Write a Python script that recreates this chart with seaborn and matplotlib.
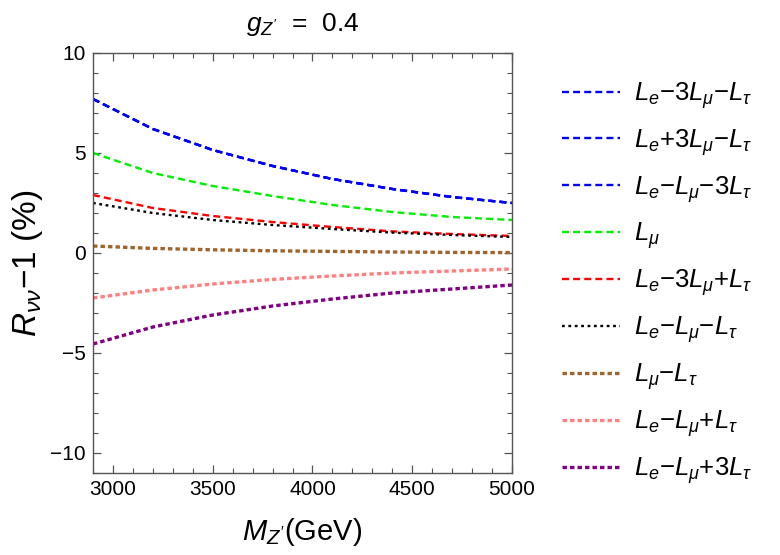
import matplotlib
matplotlib.use("Agg")
import matplotlib.pyplot as plt
import seaborn as sns
import pandas as pd
from matplotlib.ticker import MultipleLocator

# ---- data ----
mass = [2900, 3200, 3500, 3800, 4100, 4400, 4700, 5000]
blue1 = [7.7, 6.2, 5.15, 4.35, 3.7, 3.2, 2.8, 2.5]
blue2 = [7.7, 6.2, 5.15, 4.35, 3.7, 3.2, 2.8, 2.5]
blue3 = [7.7, 6.2, 5.15, 4.35, 3.7, 3.2, 2.8, 2.5]
green = [5.0, 4.0, 3.35, 2.85, 2.4, 2.05, 1.8, 1.65]
red = [2.9, 2.25, 1.85, 1.55, 1.3, 1.08, 0.95, 0.85]
black = [2.5, 2.0, 1.65, 1.4, 1.2, 1.02, 0.9, 0.8]
brown = [0.35, 0.23, 0.16, 0.11, 0.08, 0.05, 0.03, 0.02]
pink = [-2.25, -1.85, -1.55, -1.32, -1.15, -1.0, -0.9, -0.8]
purple = [-4.55, -3.7, -3.1, -2.65, -2.3, -2.0, -1.8, -1.6]

labels = [
    r"$L_e$−3$L_\mu$−$L_\tau$",
    r"$L_e$+3$L_\mu$−$L_\tau$",
    r"$L_e$−$L_\mu$−3$L_\tau$",
    r"$L_\mu$",
    r"$L_e$−3$L_\mu$+$L_\tau$",
    r"$L_e$−$L_\mu$−$L_\tau$",
    r"$L_\mu$−$L_\tau$",
    r"$L_e$−$L_\mu$+$L_\tau$",
    r"$L_e$−$L_\mu$+3$L_\tau$",
]
series = [blue1, blue2, blue3, green, red, black, brown, pink, purple]
colors = ["#0000ff", "#0000ff", "#0000ff", "#00ee00", "#ff0000",
          "#000000", "#a0642d", "#ff8080", "#800080"]
styles = ["dash", "dash", "dash", "dash", "dash", "dot", "dotb", "dotb", "dotb"]

sns.set_theme(style="ticks")
plt.rcParams["font.family"] = ["Liberation Sans", "DejaVu Sans"]
plt.rcParams["mathtext.fontset"] = "custom"
plt.rcParams["mathtext.rm"] = "Liberation Sans"
plt.rcParams["mathtext.it"] = "Liberation Sans:italic"
plt.rcParams["mathtext.bf"] = "Liberation Sans:bold"
plt.rcParams["lines.scale_dashes"] = False
plt.rcParams["text.color"] = "black"
plt.rcParams["axes.labelcolor"] = "black"
plt.rcParams["axes.titlecolor"] = "black"

fig = plt.figure(figsize=(7.8, 5.55), dpi=100)
ax = fig.add_axes([93 / 780, 1 - 473 / 555, (512 - 93) / 780, (473 - 53) / 555])

for lab, ys, col, st in zip(labels, series, colors, styles):
    df = pd.DataFrame({"M": mass, "R": ys})
    sns.lineplot(data=df, x="M", y="R", ax=ax, color=col, label=lab)
    line = ax.lines[-1]
    if st == "dash":
        line.set_linewidth(1.7)
        line.set_dashes((5.0, 3.0))
    elif st == "dot":
        line.set_linewidth(1.7)
        line.set_dashes((2.0, 2.6))
    else:
        line.set_linewidth(2.4)
        line.set_dashes((3.2, 2.2))

ax.set_xlim(2900, 5000)
ax.set_ylim(-11, 10)
ax.xaxis.set_major_locator(MultipleLocator(500))
ax.xaxis.set_minor_locator(MultipleLocator(100))
ax.yaxis.set_major_locator(MultipleLocator(5))
ax.yaxis.set_minor_locator(MultipleLocator(1))
ax.tick_params(which="both", direction="in", top=True, right=True,
               colors="#555555", labelcolor="black", labelsize=15)
ax.tick_params(which="major", length=6, width=0.9, pad=5)
ax.tick_params(which="minor", length=3.5, width=0.8)
for s in ax.spines.values():
    s.set_color("#555555")
    s.set_linewidth(1.0)

ax.set_xlabel(r"$M_{Z^{\prime}}$(GeV)", fontsize=21, labelpad=12)
ax.set_ylabel(r"$R_{\nu\nu}$−1 (%)", fontsize=24, labelpad=4)
ax.set_title(r"$g_{Z^{\prime}}$  =  0.4", fontsize=19, pad=16)

leg = ax.legend(loc="center left", bbox_to_anchor=(562 / 780, 1 - 283 / 555),
                bbox_transform=fig.transFigure, frameon=False, fontsize=18.5,
                handlelength=2.25, handletextpad=0.55, labelspacing=0.63,
                borderpad=0, borderaxespad=0)
for t in leg.get_texts():
    t.set_color("black")

fig.savefig("out.png", dpi=100)
